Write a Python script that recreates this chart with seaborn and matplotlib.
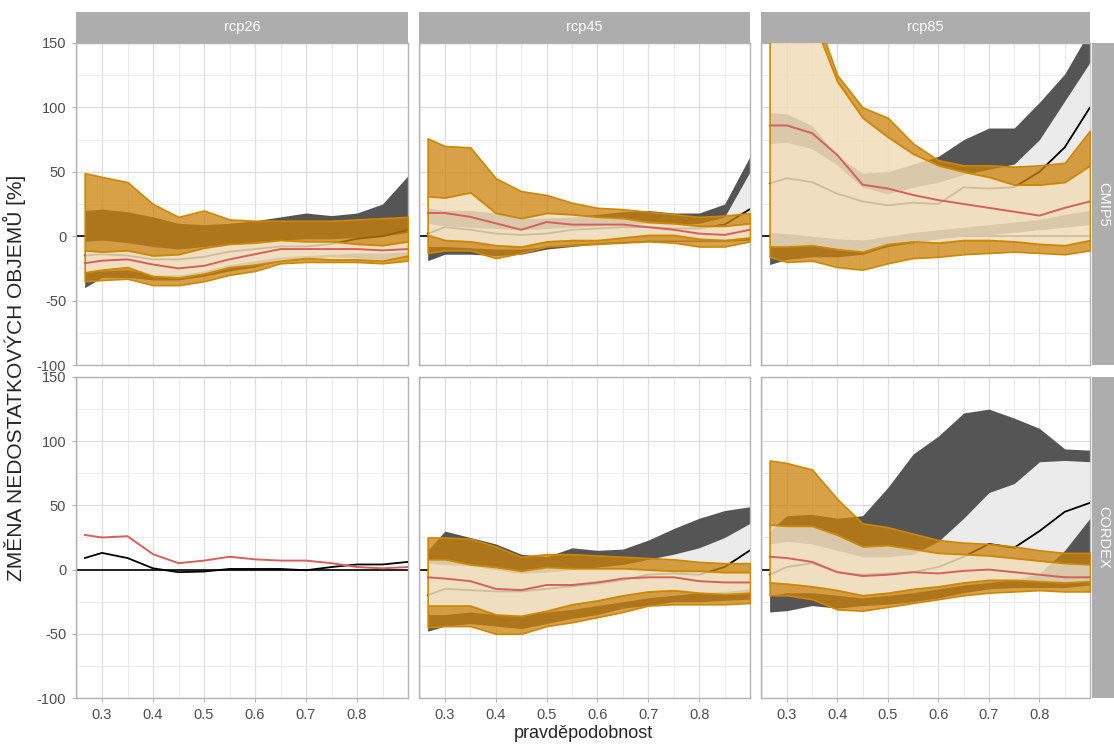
import numpy as np
import pandas as pd
import seaborn as sns
import matplotlib.pyplot as plt

# probability axis (shared by all panels)
x = [0.266, 0.30, 0.35, 0.40, 0.45, 0.50, 0.55, 0.60, 0.65, 0.70, 0.75, 0.80, 0.85, 0.90]

scenarios = ['rcp26', 'rcp45', 'rcp85']
ensembles = ['CMIP5', 'CORDEX']

# g_* = grey band (outer dark / inner light / median black line)
# o_* = orange band (outer orange / inner beige / median red line)
cmip5_rcp26 = {
    'g_hi':  [20, 21, 19, 15, 10, 9, 10, 12, 15, 18, 16, 18, 25, 47],
    'gi_hi': [-4, -3, -5, -8, -10, -8, -6, -4, -3, -2, -2, -1, 0, 3],
    'g_med': [-15, -14, -15, -18, -18, -16, -12, -10, -8, -8, -6, -2, 0, 5],
    'gi_lo': [-28, -27, -26, -30, -30, -27, -22, -19, -16, -15, -14, -13, -13, -12],
    'g_lo':  [-40, -32, -32, -34, -34, -31, -27, -24, -19, -17, -16, -17, -18, -16],
    'o_hi':  [49, 46, 42, 25, 15, 20, 13, 12, 12, 12, 12, 13, 14, 15],
    'oi_hi': [-11, -12, -11, -15, -14, -9, -6, -5, -3, -4, -4, -6, -7, -4],
    'red':   [-21, -19, -18, -22, -25, -23, -18, -14, -10, -10, -10, -10, -11, -10],
    'oi_lo': [-28, -26, -24, -31, -32, -29, -24, -22, -19, -17, -18, -18, -19, -15],
    'o_lo':  [-35, -34, -33, -38, -38, -35, -30, -27, -21, -20, -20, -20, -21, -19],
}
cmip5_rcp45 = {
    'g_hi':  [22, 20, 20, 18, 14, 14, 15, 17, 19, 20, 18, 18, 25, 62],
    'gi_hi': [10, 8, 7, 6, 5, 6, 7, 8, 9, 10, 9, 10, 15, 50],
    'g_med': [2, 7, 5, 2, 1, 2, 5, 6, 7, 7, 6, 6, 9, 21],
    'gi_lo': [-8, -8, -9, -10, -10, -8, -6, -5, -4, -3, -3, -3, -2, -1],
    'g_lo':  [-19, -14, -14, -15, -14, -10, -8, -6, -5, -4, -4, -4, -4, -3],
    'o_hi':  [76, 70, 69, 45, 35, 32, 26, 22, 21, 19, 17, 15, 16, 18],
    'oi_hi': [31, 30, 34, 18, 14, 18, 17, 15, 14, 11, 10, 8, 8, 10],
    'red':   [18, 18, 15, 10, 5, 11, 9, 9, 9, 7, 5, 2, 1, 5],
    'oi_lo': [1, -3, -4, -7, -8, -4, -3, -3, -1, 1, 1, -2, -3, -1],
    'o_lo':  [-13, -11, -11, -17, -13, -8, -7, -6, -5, -4, -5, -8, -8, -4],
}
cmip5_rcp85 = {
    'g_hi':  [96, 95, 86, 62, 49, 50, 56, 62, 75, 84, 84, 104, 126, 160],
    'gi_hi': [72, 73, 68, 55, 38, 33, 38, 42, 48, 52, 56, 75, 105, 135],
    'g_med': [41, 45, 42, 33, 27, 24, 26, 25, 38, 37, 38, 50, 69, 100],
    'gi_lo': [3, 2, 0, -2, -3, 0, 3, 5, 7, 9, 11, 13, 17, 20],
    'g_lo':  [-22, -18, -16, -16, -14, -8, -5, -2, 0, 1, 3, 5, 7, 9],
    'o_hi':  [200, 200, 180, 125, 100, 92, 72, 59, 55, 55, 54, 55, 57, 82],
    'oi_hi': [200, 200, 170, 120, 92, 77, 64, 55, 50, 46, 40, 40, 42, 55],
    'red':   [86, 86, 80, 63, 40, 37, 32, 28, 25, 22, 19, 16, 22, 27],
    'oi_lo': [-8, -8, -7, -10, -12, -6, -4, -5, -3, -3, -4, -6, -7, -3],
    'o_lo':  [-16, -20, -19, -24, -26, -21, -17, -16, -14, -13, -12, -13, -14, -11],
}
cordex_rcp26 = {
    'g_med': [9, 13, 9, 1, -2, -1.5, 0.5, 0.5, 0.5, -0.5, 2, 4, 4, 6],
    'red':   [27, 25, 26, 12, 5, 7, 10, 8, 7, 7, 5, 2, 1, 2],
}
cordex_rcp45 = {
    'g_hi':  [15, 30, 25, 20, 12, 10, 17, 15, 16, 23, 32, 40, 46, 49],
    'gi_hi': [5, 4, 3, 0, -3, -2, 0, 2, 4, 8, 12, 17, 25, 36],
    'g_med': [-20, -15, -16, -17, -17, -15, -13, -11, -8, -4, -3, -4, 2, 15],
    'gi_lo': [-35, -35, -33, -35, -36, -33, -31, -28, -25, -22, -20, -18, -17, -15],
    'g_lo':  [-48, -44, -42, -44, -46, -42, -38, -35, -30, -28, -25, -25, -24, -23],
    'o_hi':  [25, 25, 24, 18, 10, 12, 12, 11, 10, 9, 8, 6, 5, 5],
    'oi_hi': [8, 8, 4, 2, -1, 2, 1, 1, 1, 0, -1, -1, -2, -2],
    'red':   [-6, -7, -9, -15, -16, -12, -12, -10, -7, -6, -6, -9, -10, -10],
    'oi_lo': [-28, -28, -28, -35, -36, -32, -27, -24, -20, -17, -16, -18, -19, -18],
    'o_lo':  [-45, -44, -44, -50, -50, -44, -41, -37, -33, -28, -27, -27, -27, -26],
}
cordex_rcp85 = {
    'g_hi':  [30, 42, 43, 40, 42, 64, 90, 104, 122, 125, 118, 110, 94, 93],
    'gi_hi': [20, 22, 20, 15, 10, 10, 12, 22, 40, 60, 67, 84, 85, 84],
    'g_med': [-4, 2, 5, -2, -4, -3, -2, 2, 10, 20, 17, 30, 45, 52],
    'gi_lo': [-20, -18, -18, -20, -22, -20, -18, -15, -12, -10, -8, -3, 15, 40],
    'g_lo':  [-33, -32, -28, -30, -28, -27, -25, -22, -18, -15, -14, -14, -14, -12],
    'o_hi':  [85, 83, 78, 55, 36, 33, 28, 23, 21, 20, 18, 15, 13, 13],
    'oi_hi': [35, 34, 34, 27, 18, 19, 16, 13, 12, 11, 9, 7, 5, 4],
    'red':   [10, 9, 6, -2, -5, -4, -2, -3, -1, 0, -2, -4, -6, -6],
    'oi_lo': [-10, -11, -13, -16, -20, -18, -15, -13, -10, -8, -8, -9, -10, -9],
    'o_lo':  [-20, -20, -23, -31, -32, -29, -26, -23, -20, -18, -17, -16, -17, -17],
}

panels = {
    ('CMIP5', 'rcp26'): cmip5_rcp26, ('CMIP5', 'rcp45'): cmip5_rcp45, ('CMIP5', 'rcp85'): cmip5_rcp85,
    ('CORDEX', 'rcp26'): cordex_rcp26, ('CORDEX', 'rcp45'): cordex_rcp45, ('CORDEX', 'rcp85'): cordex_rcp85,
}

sns.set_style('white')
plt.rcParams['font.family'] = ['Liberation Sans', 'DejaVu Sans']
plt.rcParams['axes.unicode_minus'] = False

dark_grey = '#555555'
light_grey = '#EBEBEB'
orange_fill = (0.80, 0.51, 0.04, 0.75)
orange_edge = '#CC8800'
beige_fill = (0.94, 0.863, 0.725, 0.86)
red = '#D6605C'
strip_col = '#ADADAD'

W, H = 1114, 747
fig = plt.figure(figsize=(W / 100, H / 100), dpi=100)

col_px = [(76, 408), (419, 750), (761, 1090)]
row_px = [(43, 365), (377, 698)]


def frac(x0, y0, x1, y1):
    return [x0 / W, 1 - y1 / H, (x1 - x0) / W, (y1 - y0) / H]


for r, ens in enumerate(ensembles):
    for c, scen in enumerate(scenarios):
        d = panels[(ens, scen)]
        (x0, x1), (y0, y1) = col_px[c], row_px[r]
        ax = fig.add_axes(frac(x0, y0, x1, y1))
        ax.axhline(0, color='black', lw=1.2, zorder=1)
        if 'g_hi' in d:
            ax.fill_between(x, d['g_lo'], d['g_hi'], color=dark_grey, lw=0, zorder=2)
            ax.fill_between(x, d['gi_lo'], d['gi_hi'], color=light_grey, lw=0, zorder=3)
        sns.lineplot(x=x, y=d['g_med'], ax=ax, color='black', lw=1.3, zorder=4)
        if 'o_hi' in d:
            ax.fill_between(x, d['oi_hi'], d['o_hi'], facecolor=orange_fill,
                            edgecolor=orange_edge, lw=1.2, zorder=5)
            ax.fill_between(x, d['o_lo'], d['oi_lo'], facecolor=orange_fill,
                            edgecolor=orange_edge, lw=1.2, zorder=5)
            ax.fill_between(x, d['oi_lo'], d['oi_hi'], facecolor=beige_fill,
                            edgecolor=orange_edge, lw=1.2, zorder=6)
        sns.lineplot(x=x, y=d['red'], ax=ax, color=red, lw=1.4, zorder=7)

        ax.set_xlim(0.249, 0.9)
        ax.set_ylim(-100, 150)
        ax.set_xticks([0.3, 0.4, 0.5, 0.6, 0.7, 0.8])
        ax.set_xticks([0.25, 0.35, 0.45, 0.55, 0.65, 0.75, 0.85], minor=True)
        ax.set_yticks([-100, -50, 0, 50, 100, 150])
        ax.set_yticks([-75, -25, 25, 75, 125], minor=True)
        ax.grid(which='major', color='#DEDEDE', lw=0.9, zorder=0)
        ax.grid(which='minor', color='#EBEBEB', lw=0.7, zorder=0)
        ax.set_axisbelow(True)
        ax.tick_params(which='major', length=3, color='#B3B3B3', labelcolor='#4D4D4D',
                       labelsize=10.5, pad=4, bottom=(r == 1), left=(c == 0))
        ax.tick_params(which='minor', length=0)
        if r == 0:
            ax.set_xticklabels([])
        if c > 0:
            ax.set_yticklabels([])
        ax.set_xlabel('')
        ax.set_ylabel('')
        for s in ax.spines.values():
            s.set_color('#B3B3B3')
            s.set_linewidth(1.0)

        # top strip
        if r == 0:
            sax = fig.add_axes(frac(x0, 12, x1, 43))
            sax.set_facecolor(strip_col)
            sax.set_xticks([])
            sax.set_yticks([])
            for s in sax.spines.values():
                s.set_visible(False)
            sax.text(0.5, 0.5, scen, color='white', fontsize=10.5,
                     ha='center', va='center', transform=sax.transAxes)
    # right strip
    (y0, y1) = row_px[r]
    rax = fig.add_axes(frac(1092, y0, 1114, y1))
    rax.set_facecolor(strip_col)
    rax.set_xticks([])
    rax.set_yticks([])
    for s in rax.spines.values():
        s.set_visible(False)
    rax.text(0.5, 0.5, ens, color='white', fontsize=10.5, rotation=270,
             ha='center', va='center', transform=rax.transAxes)

fig.text(14 / W, 1 - 378 / H, 'ZMĚNA NEDOSTATKOVÝCH OBJEMŮ [%]', rotation=90,
         fontsize=15, ha='center', va='center')
fig.text(583 / W, 1 - 734 / H, 'pravděpodobnost', fontsize=13, ha='center', va='center')

fig.savefig('out.png', dpi=100)
